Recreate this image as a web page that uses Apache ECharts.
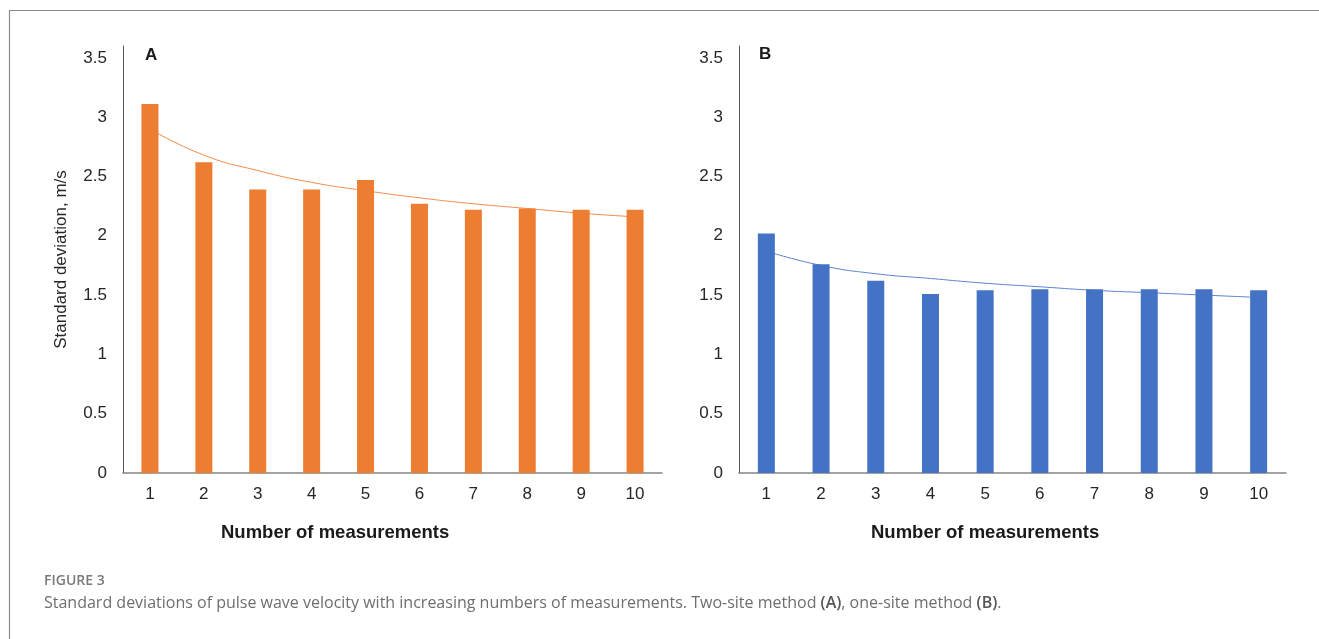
<!DOCTYPE html>
<html>
<head>
<meta charset="utf-8">
<style>
    html, body { margin: 0; padding: 0; background: #fff; }
    #chart { width: 1319px; height: 639px; }
</style>
<script src="https://cdn.jsdelivr.net/npm/echarts@6/dist/echarts.min.js"></script>
</head>
<body>
<div id="chart"></div>
<script>
// categories: number of measurements
var measurements = ['1', '2', '3', '4', '5', '6', '7', '8', '9', '10'];
// A: two-site method, standard deviation (m/s)
var twoSiteSD = [3.11, 2.62, 2.39, 2.39, 2.47, 2.27, 2.22, 2.23, 2.22, 2.22];
var twoSiteTrend = [2.90, 2.68, 2.55, 2.45, 2.38, 2.32, 2.27, 2.23, 2.19, 2.16];
// B: one-site method
var oneSiteSD = [2.02, 1.76, 1.62, 1.51, 1.54, 1.55, 1.55, 1.55, 1.55, 1.54];
var oneSiteTrend = [1.87, 1.75, 1.68, 1.64, 1.60, 1.57, 1.54, 1.52, 1.50, 1.48];

var chart = echarts.init(document.getElementById('chart'));

var font = '"Liberation Sans", Arial, sans-serif';
var capFont = '"Open Sans", sans-serif';

function xAxisFor(idx) {
    return {
        type: 'category',
        gridIndex: idx,
        data: measurements,
        axisTick: { show: false },
        axisLine: { lineStyle: { color: '#858585', width: 1.6 } },
        axisLabel: { color: '#262626', fontSize: 17, fontFamily: font, margin: 13 }
    };
}
function yAxisFor(idx) {
    return {
        type: 'value',
        gridIndex: idx,
        min: 0,
        max: 3.6,
        interval: 0.5,
        splitLine: { show: false },
        axisTick: { show: false },
        axisLine: { show: true, lineStyle: { color: '#595959', width: 1 } },
        axisLabel: {
            color: '#262626', fontSize: 17, fontFamily: font, margin: 16,
            formatter: function (v) {
                // hide the extra top edge tick (3.6)
                return Math.abs(v * 2 - Math.round(v * 2)) < 1e-6 ? String(v) : '';
            }
        }
    };
}

var option = {
    animation: false,
    grid: [
        { left: 123, right: 657, top: 46, bottom: 166 },
        { left: 739, right: 33, top: 46, bottom: 166 }
    ],
    xAxis: [xAxisFor(0), xAxisFor(1)],
    yAxis: [
        Object.assign(yAxisFor(0), {
            name: 'Standard deviation, m/s',
            nameLocation: 'middle',
            nameGap: 53,
            nameTextStyle: { color: '#262626', fontSize: 17, fontFamily: font }
        }),
        yAxisFor(1)
    ],
    series: [
        {
            type: 'line', xAxisIndex: 0, yAxisIndex: 0, z: 1,
            data: twoSiteTrend, smooth: true, symbol: 'none',
            lineStyle: { color: '#F08C4A', width: 1 }
        },
        {
            type: 'bar', xAxisIndex: 0, yAxisIndex: 0, z: 2,
            data: twoSiteSD, barWidth: 17,
            itemStyle: { color: '#ED7D31' }
        },
        {
            type: 'line', xAxisIndex: 1, yAxisIndex: 1, z: 1,
            data: oneSiteTrend, smooth: true, symbol: 'none',
            lineStyle: { color: '#5A83CB', width: 1 }
        },
        {
            type: 'bar', xAxisIndex: 1, yAxisIndex: 1, z: 2,
            data: oneSiteSD, barWidth: 17,
            itemStyle: { color: '#4472C4' }
        }
    ],
    graphic: [
        // frame
        { type: 'line', shape: { x1: 9, y1: 10.5, x2: 1319, y2: 10.5 }, style: { stroke: '#8c8c8c', lineWidth: 1.2 } },
        { type: 'line', shape: { x1: 9.5, y1: 10, x2: 9.5, y2: 639 }, style: { stroke: '#8c8c8c', lineWidth: 1.2 } },
        // panel letters
        { type: 'text', left: 145, top: 47, style: { text: 'A', font: 'bold 17px ' + font, fill: '#1a1a1a' } },
        { type: 'text', left: 759, top: 46, style: { text: 'B', font: 'bold 17px ' + font, fill: '#1a1a1a' } },
        // x axis titles
        { type: 'text', left: 221, top: 523, style: { text: 'Number of measurements', font: 'bold 18.5px ' + font, fill: '#1a1a1a' } },
        { type: 'text', left: 871, top: 523, style: { text: 'Number of measurements', font: 'bold 18.5px ' + font, fill: '#1a1a1a' } },
        // caption
        { type: 'text', left: 44, top: 574, style: { text: 'FIGURE 3', font: '600 14px ' + capFont, fill: '#7a7a7a' } },
        {
            type: 'text', left: 44, top: 595,
            style: {
                text: 'Standard deviations of pulse wave velocity with increasing numbers of measurements. Two-site method {b|(A)}, one-site method {b|(B)}.',
                font: '16px ' + capFont,
                fill: '#6e6e6e',
                rich: { b: { fontFamily: capFont, fontSize: 16, fontWeight: 600, fill: '#555' } }
            }
        }
    ]
};

chart.setOption(option);
</script>
</body>
</html>
